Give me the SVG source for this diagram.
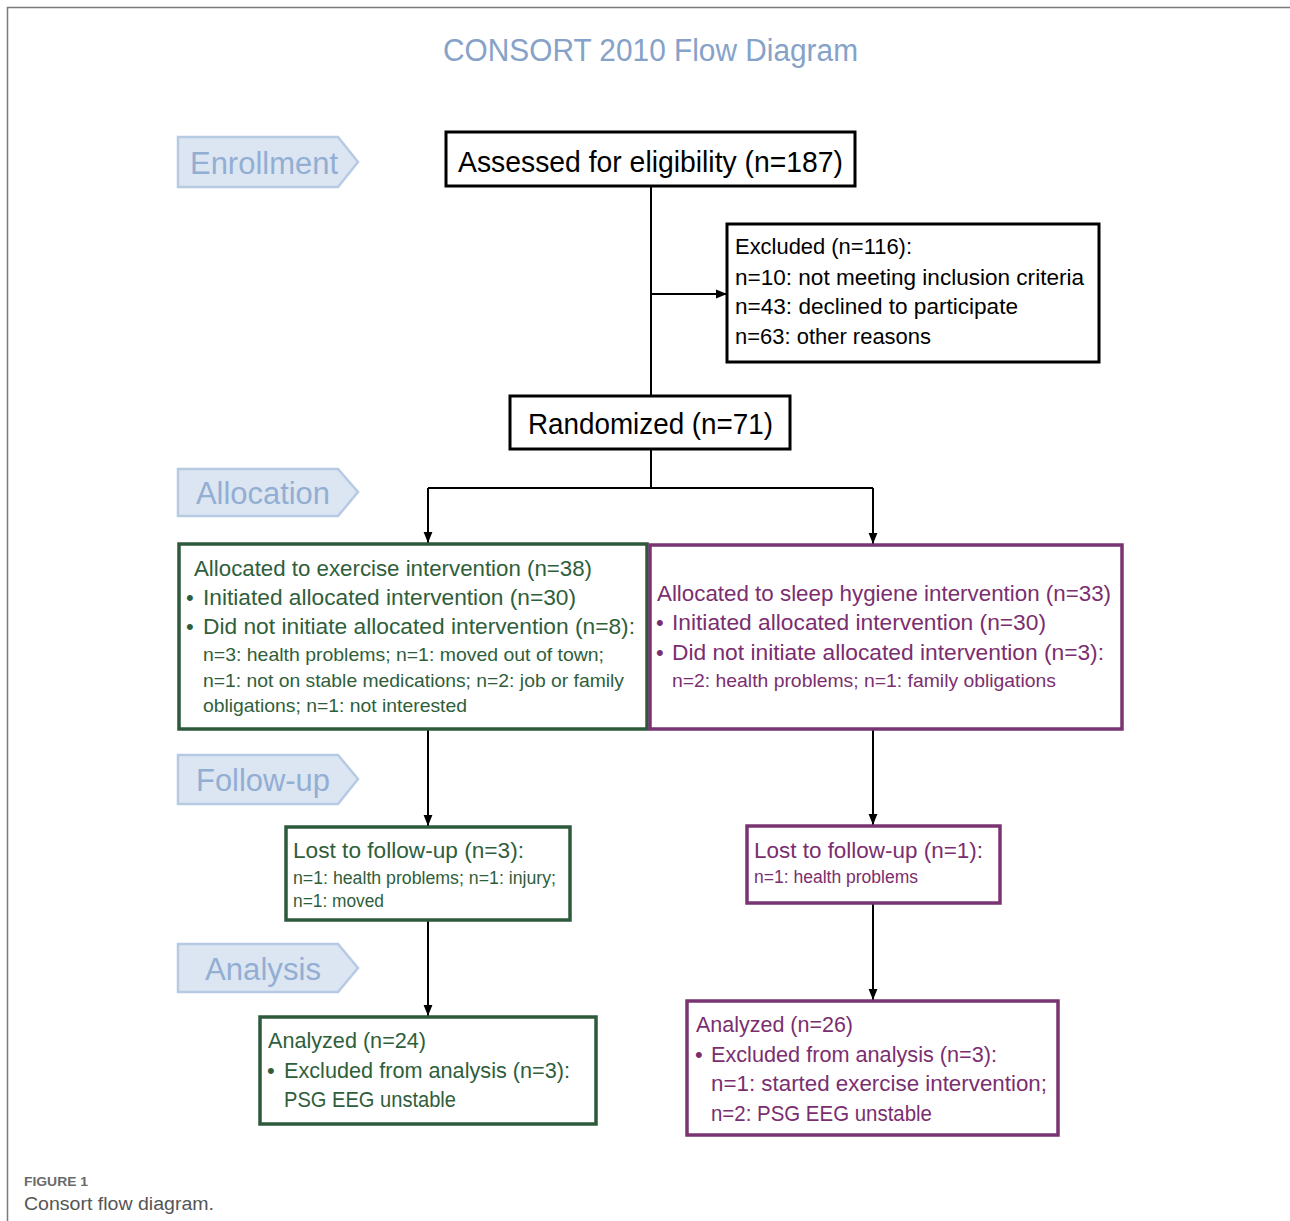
<svg xmlns="http://www.w3.org/2000/svg" width="1290" height="1221" viewBox="0 0 1290 1221">
<defs>
<marker id="arr" markerUnits="userSpaceOnUse" markerWidth="11" markerHeight="11" viewBox="0 0 10 10" refX="10" refY="5" orient="auto">
<path d="M0,1 L10,5 L0,9 Z" fill="#000"/>
</marker>
<style>
text{font-family:"Liberation Sans",Arial,sans-serif}
.stage polygon{fill:#DCE6F2;stroke:#B7CAE3;stroke-width:2.5}
.stage text{fill:#93AED3;font-size:31px}
.blk rect{fill:#fff;stroke:#000;stroke-width:3}
.blk text{fill:#000}
.grn rect{fill:#fff;stroke:#2E5A3C;stroke-width:3.5}
.grn text{fill:#2F5E3B}
.pur rect{fill:#fff;stroke:#7A3472;stroke-width:3.5}
.pur text{fill:#7B2E6F}
.conn path{fill:none;stroke:#000;stroke-width:2}
.t21{font-size:22px}
.t18{font-size:18.5px}
.t17{font-size:17.5px}
.t28{font-size:29px}
</style>
</defs>
<rect x="0" y="0" width="1290" height="1221" fill="#fff"/>
<path d="M7.5,1221 V7.5 H1290" fill="none" stroke="#7A7A7A" stroke-width="1.5"/>
<text x="443" y="61" font-size="31" fill="#86A2C8" textLength="415" lengthAdjust="spacingAndGlyphs">CONSORT 2010 Flow Diagram</text>

<g id="stage-enrollment" class="stage"><polygon points="178,137 338,137 358,162 338,187 178,187"/><text x="190" y="174" textLength="148" lengthAdjust="spacingAndGlyphs">Enrollment</text></g>
<g id="stage-allocation" class="stage"><polygon points="178,469 338,469 358,492 338,516 178,516"/><text x="196" y="504" textLength="134" lengthAdjust="spacingAndGlyphs">Allocation</text></g>
<g id="stage-followup" class="stage"><polygon points="178,755 338,755 358,779 338,804 178,804"/><text x="196" y="791" textLength="134" lengthAdjust="spacingAndGlyphs">Follow-up</text></g>
<g id="stage-analysis" class="stage"><polygon points="178,944 338,944 358,968 338,992 178,992"/><text x="205" y="980" textLength="116" lengthAdjust="spacingAndGlyphs">Analysis</text></g>

<g id="connectors" class="conn">
<path d="M651,186 V396"/>
<path d="M651,294 H727" marker-end="url(#arr)"/>
<path d="M651,449 V488"/>
<path d="M428,488 H873"/>
<path d="M428,488 V543" marker-end="url(#arr)"/>
<path d="M873,488 V544" marker-end="url(#arr)"/>
<path d="M428,729 V826" marker-end="url(#arr)"/>
<path d="M873,729 V825" marker-end="url(#arr)"/>
<path d="M428,920 V1016" marker-end="url(#arr)"/>
<path d="M873,903 V1000" marker-end="url(#arr)"/>
</g>

<g id="assessed" class="blk"><rect x="446" y="132" width="409" height="54"/><text class="t28" x="458" y="172" textLength="385" lengthAdjust="spacingAndGlyphs">Assessed for eligibility (n=187)</text></g>

<g id="excluded" class="blk"><rect x="727" y="224" width="372" height="138"/>
<text class="t21" x="735" y="254" textLength="177" lengthAdjust="spacingAndGlyphs">Excluded (n=116):</text>
<text class="t21" x="735" y="285" textLength="349" lengthAdjust="spacingAndGlyphs">n=10: not meeting inclusion criteria</text>
<text class="t21" x="735" y="314" textLength="283" lengthAdjust="spacingAndGlyphs">n=43: declined to participate</text>
<text class="t21" x="735" y="344" textLength="196" lengthAdjust="spacingAndGlyphs">n=63: other reasons</text>
</g>

<g id="randomized" class="blk"><rect x="510" y="396" width="280" height="53"/><text class="t28" x="528" y="434" textLength="245" lengthAdjust="spacingAndGlyphs">Randomized (n=71)</text></g>

<g id="alloc-exercise" class="grn"><rect x="179" y="544" width="468" height="185"/>
<text class="t21" x="194" y="576" textLength="398" lengthAdjust="spacingAndGlyphs">Allocated to exercise intervention (n=38)</text>
<text class="t21" x="186" y="605">•</text>
<text class="t21" x="203" y="605" textLength="373" lengthAdjust="spacingAndGlyphs">Initiated allocated intervention (n=30)</text>
<text class="t21" x="186" y="634">•</text>
<text class="t21" x="203" y="634" textLength="432" lengthAdjust="spacingAndGlyphs">Did not initiate allocated intervention (n=8):</text>
<text class="t18" x="203" y="661" textLength="401" lengthAdjust="spacingAndGlyphs">n=3: health problems; n=1: moved out of town;</text>
<text class="t18" x="203" y="687" textLength="421" lengthAdjust="spacingAndGlyphs">n=1: not on stable medications; n=2: job or family</text>
<text class="t18" x="203" y="712" textLength="264" lengthAdjust="spacingAndGlyphs">obligations; n=1: not interested</text>
</g>

<g id="alloc-sleep" class="pur"><rect x="650" y="545" width="472" height="184"/>
<text class="t21" x="657" y="601" textLength="454" lengthAdjust="spacingAndGlyphs">Allocated to sleep hygiene intervention (n=33)</text>
<text class="t21" x="656" y="630">•</text>
<text class="t21" x="672" y="630" textLength="374" lengthAdjust="spacingAndGlyphs">Initiated allocated intervention (n=30)</text>
<text class="t21" x="656" y="660">•</text>
<text class="t21" x="672" y="660" textLength="432" lengthAdjust="spacingAndGlyphs">Did not initiate allocated intervention (n=3):</text>
<text class="t18" x="672" y="687" textLength="384" lengthAdjust="spacingAndGlyphs">n=2: health problems; n=1: family obligations</text>
</g>

<g id="lost-exercise" class="grn"><rect x="286" y="827" width="284" height="93"/>
<text class="t21" x="293" y="858" textLength="231" lengthAdjust="spacingAndGlyphs">Lost to follow-up (n=3):</text>
<text class="t17" x="293" y="884" textLength="263" lengthAdjust="spacingAndGlyphs">n=1: health problems; n=1: injury;</text>
<text class="t17" x="293" y="907" textLength="91" lengthAdjust="spacingAndGlyphs">n=1: moved</text>
</g>

<g id="lost-sleep" class="pur"><rect x="747" y="826" width="253" height="77"/>
<text class="t21" x="754" y="858" textLength="229" lengthAdjust="spacingAndGlyphs">Lost to follow-up (n=1):</text>
<text class="t17" x="754" y="883" textLength="164" lengthAdjust="spacingAndGlyphs">n=1: health problems</text>
</g>

<g id="analyzed-exercise" class="grn"><rect x="260" y="1017" width="336" height="107"/>
<text class="t21" x="268" y="1048" textLength="158" lengthAdjust="spacingAndGlyphs">Analyzed (n=24)</text>
<text class="t21" x="267" y="1078">•</text>
<text class="t21" x="284" y="1078" textLength="286" lengthAdjust="spacingAndGlyphs">Excluded from analysis (n=3):</text>
<text class="t21" x="284" y="1107" textLength="172" lengthAdjust="spacingAndGlyphs">PSG EEG unstable</text>
</g>

<g id="analyzed-sleep" class="pur"><rect x="687" y="1001" width="371" height="134"/>
<text class="t21" x="696" y="1032" textLength="157" lengthAdjust="spacingAndGlyphs">Analyzed (n=26)</text>
<text class="t21" x="695" y="1062">•</text>
<text class="t21" x="711" y="1062" textLength="286" lengthAdjust="spacingAndGlyphs">Excluded from analysis (n=3):</text>
<text class="t21" x="711" y="1091" textLength="336" lengthAdjust="spacingAndGlyphs">n=1: started exercise intervention;</text>
<text class="t21" x="711" y="1121" textLength="221" lengthAdjust="spacingAndGlyphs">n=2: PSG EEG unstable</text>
</g>

<text x="24" y="1186" font-size="13" font-weight="bold" fill="#6A6A6A" textLength="64" lengthAdjust="spacingAndGlyphs">FIGURE 1</text>
<text x="24" y="1210" font-size="18" fill="#555" textLength="190" lengthAdjust="spacingAndGlyphs">Consort flow diagram.</text>
</svg>
